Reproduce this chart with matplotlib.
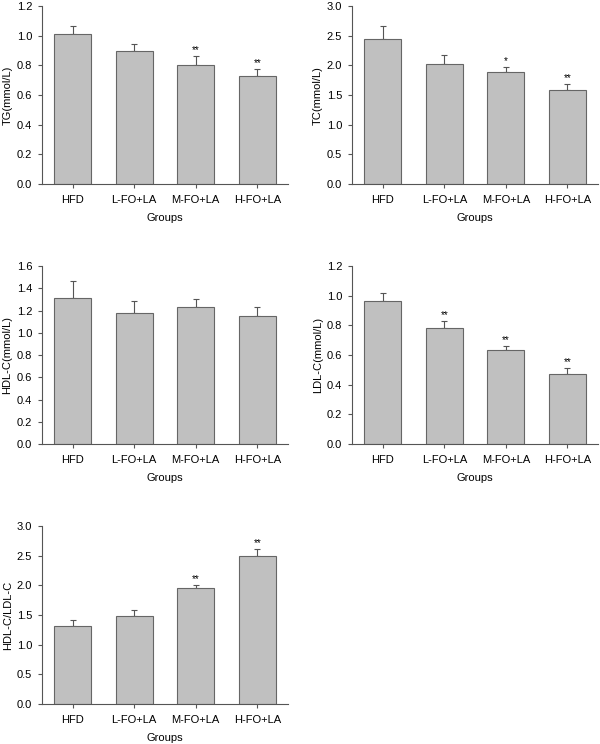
import numpy as np
import matplotlib
matplotlib.use("Agg")
import matplotlib.pyplot as plt

plt.rcParams['font.family'] = ['Liberation Sans', 'DejaVu Sans']

groups = ["HFD", "L-FO+LA", "M-FO+LA", "H-FO+LA"]

tg = [1.01, 0.90, 0.805, 0.73]
tg_err = [0.055, 0.045, 0.057, 0.044]
tg_sig = ["", "", "**", "**"]

tc = [2.44, 2.03, 1.89, 1.58]
tc_err = [0.23, 0.15, 0.09, 0.10]
tc_sig = ["", "", "*", "**"]

hdl = [1.31, 1.18, 1.235, 1.15]
hdl_err = [0.155, 0.11, 0.07, 0.08]
hdl_sig = ["", "", "", ""]

ldl = [0.962, 0.780, 0.632, 0.470]
ldl_err = [0.056, 0.051, 0.027, 0.040]
ldl_sig = ["", "**", "**", "**"]

ratio = [1.32, 1.49, 1.955, 2.49]
ratio_err = [0.09, 0.10, 0.05, 0.12]
ratio_sig = ["", "", "**", "**"]

panels = [
    # (left, bottom, values, errors, sig, ylabel, ymax, step)
    (0.07, 0.7527, tg, tg_err, tg_sig, "TG(mmol/L)", 1.2, 0.2),
    (0.5867, 0.7527, tc, tc_err, tc_sig, "TC(mmol/L)", 3.0, 0.5),
    (0.07, 0.4032, hdl, hdl_err, hdl_sig, "HDL-C(mmol/L)", 1.6, 0.2),
    (0.5867, 0.4032, ldl, ldl_err, ldl_sig, "LDL-C(mmol/L)", 1.2, 0.2),
    (0.07, 0.0538, ratio, ratio_err, ratio_sig, "HDL-C/LDL-C", 3.0, 0.5),
]

fig = plt.figure(figsize=(6, 7.44), dpi=100)
x = np.arange(len(groups))
for left, bottom, vals, errs, sig, ylab, ymax, step in panels:
    ax = fig.add_axes([left, bottom, 0.41, 0.239])
    ax.bar(x, vals, width=0.6, color="#c0c0c0", edgecolor="#666666", linewidth=0.8, zorder=2)
    ax.errorbar(x, vals, yerr=[np.zeros(len(vals)), errs], fmt="none",
                ecolor="#555555", elinewidth=0.8, capsize=2.3, capthick=0.8, zorder=1)
    for xi, v, e, s in zip(x, vals, errs, sig):
        if s:
            ax.text(xi, v + e + ymax * 0.005, s, ha="center", va="bottom", fontsize=7)
    ax.set_xlim(-0.5, 3.5)
    ax.set_ylim(0, ymax)
    ax.set_yticks(np.arange(0, ymax + step / 2, step))
    ax.yaxis.set_major_formatter(matplotlib.ticker.FormatStrFormatter("%.1f"))
    ax.set_xticks(x)
    ax.set_xticklabels(groups)
    ax.tick_params(labelsize=8, length=3, width=0.8, color="#555555")
    ax.tick_params(axis="x", pad=5)
    ax.tick_params(axis="y", pad=4)
    ax.spines["top"].set_visible(False)
    ax.spines["right"].set_visible(False)
    for sp in ("left", "bottom"):
        ax.spines[sp].set_color("#555555")
        ax.spines[sp].set_linewidth(0.8)
    ax.set_ylabel(ylab, fontsize=8, labelpad=3)
    ax.set_xlabel("Groups", fontsize=8, labelpad=6)

fig.savefig("out.png", dpi=100)
